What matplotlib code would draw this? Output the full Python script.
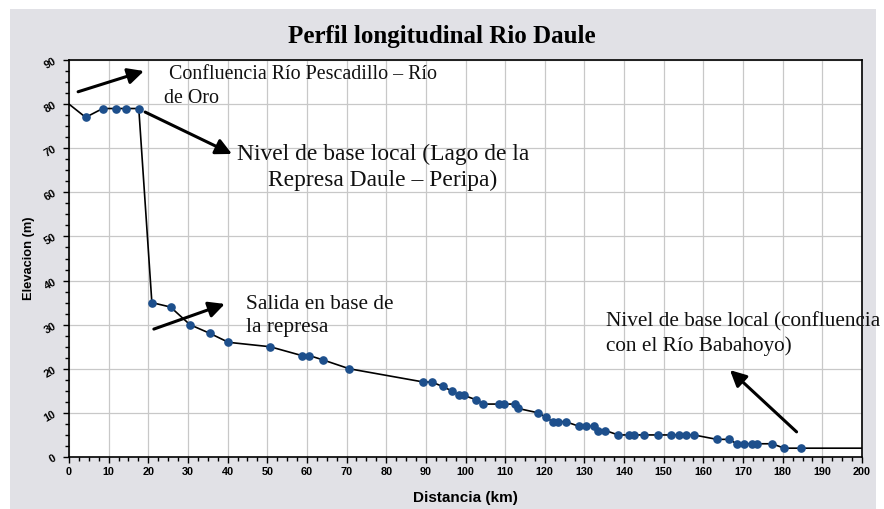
import matplotlib
matplotlib.use("Agg")
import matplotlib.pyplot as plt
from matplotlib.patches import Rectangle
from matplotlib.ticker import MultipleLocator

# ---- data ----
dist = [0, 4.2, 8.5, 11.8, 14.5, 17.6, 20.9, 25.6, 30.5, 35.6, 40.2, 50.7, 58.7, 60.6,
        64.1, 70.7, 89.4, 91.5, 94.2, 96.5, 98.4, 99.5, 102.6, 104.5, 108.4, 109.6,
        112.5, 113.3, 118.4, 120.3, 122.0, 123.4, 125.3, 128.5, 130.3, 132.5, 133.5,
        135.3, 138.5, 141.3, 142.4, 144.9, 148.5, 151.9, 153.9, 155.5, 157.6, 163.4,
        166.5, 168.4, 170.3, 172.3, 173.4, 177.3, 180.4, 184.5, 200]
elev = [80, 77, 79, 79, 79, 79, 35, 34, 30, 28, 26, 25, 23, 23, 22, 20, 17, 17, 16, 15,
        14, 14, 13, 12, 12, 12, 12, 11, 10, 9, 8, 8, 8, 7, 7, 7, 6, 6, 5, 5, 5, 5, 5,
        5, 5, 5, 5, 4, 4, 3, 3, 3, 3, 3, 2, 2, 2]

title = "Perfil longitudinal Rio Daule"
xlabel = "Distancia (km)"
ylabel = "Elevacion (m)"

notes = [
    (" Confluencia Río Pescadillo – Río\nde Oro", (2.3, 82.8), (18.9, 87.5)),
    ("Nivel de base local (Lago de la\nRepresa Daule – Peripa)", (19.2, 78.2), (41.1, 68.7)),
    ("Salida en base de\nla represa", (21.4, 29.0), (39.3, 34.7)),
    ("Nivel de base local (confluencia\ncon el Río Babahoyo)", (183.5, 5.7), (166.7, 19.7)),
]
note_pos = [(24.0, 84.0, "left"), (79.2, 65.7, "center"), (44.6, 32.0, "left"), (135.4, 27.9, "left")]
note_size = [14.4, 16.9, 15.3, 15.3]

W, H = 884, 509
fig = plt.figure(figsize=(W / 100, H / 100), dpi=100)
fig.patch.set_facecolor("white")
bg = Rectangle((10 / W, 0), (876 - 10) / W, (509 - 9) / H,
               transform=fig.transFigure, facecolor="#e1e1e6",
               edgecolor="none", zorder=-10)
fig.add_artist(bg)

ax = fig.add_axes([69 / W, (509 - 457) / H, (862 - 69) / W, (457 - 60) / H])
ax.set_zorder(1)
ax.set_facecolor("white")
ax.set_xlim(0, 200)
ax.set_ylim(0, 90)

ax.plot(dist, elev, color="black", lw=1.2, zorder=3,
        marker="o", markersize=5.2, markerfacecolor="#1d4f8c", markeredgecolor="#1d4f8c",
        markevery=list(range(1, len(dist) - 1)))

ax.xaxis.set_major_locator(MultipleLocator(10))
ax.yaxis.set_major_locator(MultipleLocator(10))
ax.xaxis.set_minor_locator(MultipleLocator(2.5))
ax.yaxis.set_minor_locator(MultipleLocator(2.5))
ax.grid(True, which="major", color="#c8c8c8", lw=0.9, zorder=1)
ax.tick_params(which="major", direction="out", length=4, width=1, color="black")
ax.tick_params(which="minor", direction="out", length=3, width=1, color="black")
for sp in ax.spines.values():
    sp.set_color("black")
    sp.set_linewidth(1.2)

for lab in ax.get_xticklabels():
    lab.set_fontfamily("Liberation Sans")
    lab.set_fontweight("bold")
    lab.set_fontsize(7.8)
for lab in ax.get_yticklabels():
    lab.set_fontfamily("Liberation Sans")
    lab.set_fontweight("bold")
    lab.set_fontsize(7.8)
    lab.set_rotation(30)
ax.tick_params(axis="x", pad=3)
ax.tick_params(axis="y", pad=4)

ax.set_xlabel(xlabel, fontfamily="Liberation Sans", fontweight="bold", fontsize=11, labelpad=10)
ax.set_ylabel(ylabel, fontfamily="Liberation Sans", fontweight="bold", fontsize=9.3, labelpad=5)

fig.text(442 / W, 1 - 36 / H, title, ha="center", va="center",
         fontfamily="Liberation Serif", fontweight="bold", fontsize=18)

for (txt, tail, head), (tx, ty, ha), fs in zip(notes, note_pos, note_size):
    ax.annotate("", xy=head, xytext=tail,
                arrowprops=dict(arrowstyle="-|>", lw=2.2, color="black",
                                mutation_scale=24, shrinkA=0, shrinkB=0), zorder=5)
    ax.text(tx, ty, txt, ha=ha, va="center", multialignment=ha,
            fontfamily="Liberation Serif", fontsize=fs, color="#111111",
            linespacing=1.3, zorder=6, clip_on=False)

fig.savefig("out.png", dpi=100)
